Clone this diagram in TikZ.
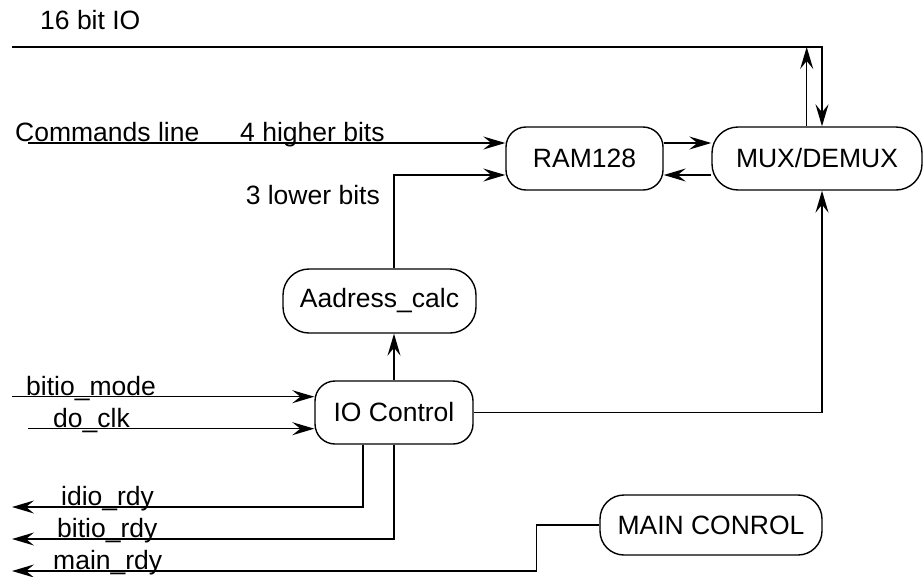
\documentclass[tikz,border=0pt]{standalone}
\usepackage{fontspec}
\setmainfont{Liberation Sans}
\usetikzlibrary{arrows.meta}
\begin{document}
\begin{tikzpicture}[x=1pt,y=1pt,
  every node/.style={font=\fontsize{26.5}{30}\selectfont},
  blk/.style={draw,line width=1.4pt,rounded corners=20pt,inner sep=0pt,align=center},
  lbl/.style={inner sep=0pt,anchor=base west},
  wire/.style={line width=1.5pt},
  arr/.style={wire,-{Stealth[length=22pt,width=13pt,inset=8pt]}}]
\useasboundingbox (0,0) rectangle (924,-576);
% blocks
\node[blk,minimum width=157pt,minimum height=63pt] (ram) at (584.5,-158.5) {RAM128};
\node[blk,minimum width=210pt,minimum height=63pt,rounded corners=26pt] (mux) at (817,-158.5) {MUX/DEMUX};
\node[blk,minimum width=193pt,minimum height=64pt,rounded corners=26pt] (addr) at (379.5,-301) {Aadress\_calc};
\node[blk,minimum width=158pt,minimum height=63pt] (io) at (394,-412.5) {IO Control};
\node[blk,minimum width=222pt,minimum height=60pt,rounded corners=24pt] (main) at (711,-525) {MAIN CONROL};
% free ends
\coordinate (io16) at (12,-47);
\coordinate (cmd) at (28,-143);
\coordinate (bm) at (12,-396.7);
\coordinate (dc) at (28,-428.7);
\coordinate (ir) at (12,-507);
\coordinate (br) at (12,-539);
\coordinate (mr) at (12,-571);
% connectors
\draw[arr] (io16) -| ([xshift=5pt]mux.north);
\draw[arr] ([xshift=-10.3pt]mux.north) -- ([xshift=-10.3pt]mux.north |- io16);
\draw[arr] (cmd) -- (ram.west |- cmd);
\draw[arr] (addr.north -| io.north) |- ([yshift=-16.5pt]ram.west);
\draw[arr] ([yshift=15.5pt]ram.east) -- ([yshift=15.5pt]mux.west);
\draw[arr] ([yshift=-16.5pt]mux.west) -- ([yshift=-16.5pt]ram.east);
\draw[arr] (io.north) -- (io.north |- addr.south);
\draw[arr] (io.east) -| ([xshift=5pt]mux.south);
\draw[arr] (bm) -- (io.west |- bm);
\draw[arr] (dc) -- (io.west |- dc);
\draw[arr] ([xshift=-31pt]io.south) |- (ir);
\draw[arr] (io.south) |- (br);
\draw[arr] (main.west) -- ++(-63,0) |- (mr);
% labels
\node[lbl] (l16) at (40,-29) {16 bit IO};
\node[lbl] (lcmd) at (15,-141) {Commands line};
\node[lbl] (lhi) at (240,-141) {4 higher bits};
\node[lbl,anchor=base east] (llo) at (380,-204) {3 lower bits};
\node[lbl] (lbm) at (26,-395) {bitio\_mode};
\node[lbl] (ldc) at (53,-427) {do\_clk};
\node[lbl] (lir) at (61,-505) {idio\_rdy};
\node[lbl] (lbr) at (57,-537) {bitio\_rdy};
\node[lbl] (lmr) at (53,-569) {main\_rdy};
\end{tikzpicture}
\end{document}
